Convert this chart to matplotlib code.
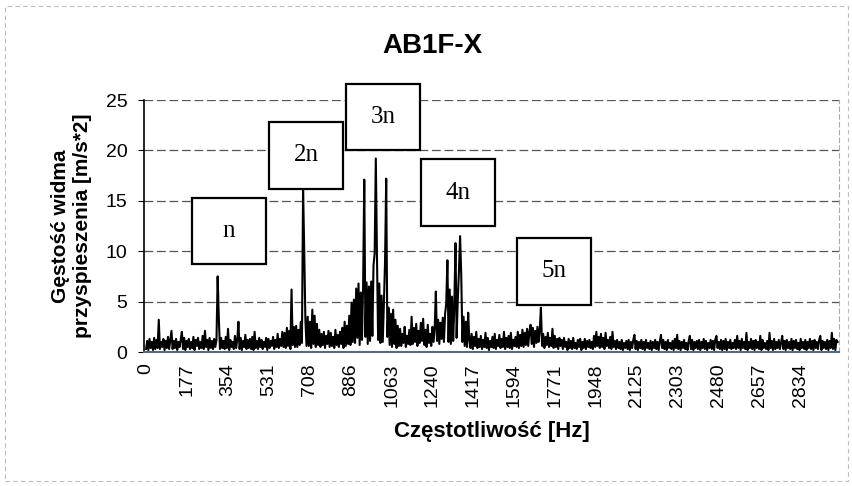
import numpy as np
import matplotlib
matplotlib.use("Agg")
from matplotlib import pyplot as plt
from matplotlib.patches import Rectangle

# Spectrum values, one value per 5 Hz step (0 .. 2995 Hz).
density = [
    0.3, 1.1, 0.2, 1.3, 0.4, 1.0, 0.2, 1.4, 0.3, 1.2,
    0.4, 3.2, 0.3, 1.0, 0.5, 1.3, 0.2, 1.1, 0.4, 1.5,
    0.3, 1.2, 2.1, 0.3, 1.1, 0.4, 1.3, 0.2, 1.0, 0.5,
    1.2, 2.0, 0.3, 1.4, 0.2, 1.1, 0.5, 1.3, 0.3, 1.0,
    0.4, 1.5, 0.2, 1.2, 0.6, 1.4, 0.3, 1.0, 0.4, 1.6,
    0.3, 2.1, 0.5, 1.2, 0.2, 1.4, 0.4, 1.1, 0.3, 1.3,
    0.5, 1.2, 7.5, 3.4, 0.3, 1.4, 0.4, 1.1, 0.3, 1.5,
    0.4, 2.3, 0.2, 1.2, 0.5, 1.0, 0.3, 1.6, 0.4, 1.2,
    3.0, 0.3, 1.4, 0.2, 1.1, 0.5, 1.7, 0.3, 1.2, 0.4,
    1.3, 0.3, 1.5, 0.2, 2.0, 0.4, 1.1, 0.3, 1.4, 0.5,
    1.2, 0.3, 1.0, 0.5, 1.4, 0.2, 1.3, 0.4, 1.1, 0.6,
    1.5, 0.3, 1.2, 0.5, 1.8, 0.4, 1.3, 0.6, 2.0, 0.5,
    1.9, 0.4, 2.4, 0.6, 2.1, 0.3, 6.2, 0.7, 2.5, 0.5,
    2.6, 0.5, 2.2, 0.7, 3.0, 0.9, 16.2, 10.0, 3.2, 0.6,
    3.5, 0.6, 3.0, 0.4, 4.2, 0.8, 3.6, 0.5, 2.8, 0.7,
    2.2, 0.5, 1.8, 0.7, 2.0, 0.4, 1.6, 0.8, 2.1, 0.5,
    1.9, 0.6, 1.5, 0.4, 2.2, 0.7, 1.7, 0.5, 2.0, 0.8,
    2.4, 0.4, 3.0, 0.6, 2.6, 0.8, 3.6, 0.7, 4.9, 1.0,
    5.2, 0.9, 6.3, 1.4, 6.8, 0.7, 5.9, 1.2, 6.6, 17.1,
    1.5, 6.9, 0.8, 6.5, 1.1, 7.0, 1.6, 8.6, 9.8, 19.2,
    9.5, 1.2, 6.8, 0.9, 5.6, 1.0, 4.8, 9.0, 17.2, 1.5,
    4.4, 0.7, 3.8, 0.5, 4.2, 0.8, 3.2, 0.4, 2.6, 0.6,
    2.3, 0.6, 1.8, 0.9, 2.5, 0.5, 1.6, 0.8, 2.2, 0.7,
    3.5, 0.8, 2.4, 1.0, 2.8, 0.6, 2.1, 0.9, 2.9, 1.1,
    3.3, 0.7, 2.2, 0.5, 2.7, 0.9, 1.8, 0.6, 2.5, 1.0,
    2.4, 6.0, 1.1, 3.2, 0.8, 2.9, 1.3, 3.4, 1.0, 3.8,
    4.8, 9.1, 1.0, 6.2, 0.8, 5.5, 1.1, 4.6, 10.8, 1.4,
    5.2, 8.0, 11.5, 7.6, 1.0, 3.5, 0.6, 3.0, 0.5, 3.9,
    1.2, 0.4, 1.8, 0.3, 1.5, 0.6, 2.0, 0.4, 1.3, 0.5,
    1.6, 0.3, 1.2, 0.5, 1.9, 0.4, 1.4, 0.2, 1.1, 0.5,
    1.5, 0.4, 1.8, 0.3, 1.2, 0.6, 1.7, 0.4, 1.3, 0.5,
    2.0, 0.3, 1.4, 0.5, 1.6, 0.4, 1.9, 0.3, 1.2, 0.6,
    1.5, 0.5, 2.0, 0.4, 1.7, 0.6, 2.2, 0.5, 1.9, 0.7,
    2.3, 0.6, 2.0, 2.7, 0.8, 2.4, 0.5, 2.1, 0.9, 2.5,
    1.0, 2.2, 4.4, 0.6, 1.8, 0.4, 1.5, 0.7, 1.9, 0.5,
    1.4, 0.6, 2.3, 0.4, 1.6, 0.5, 1.3, 0.3, 1.4, 0.6,
    1.2, 0.3, 1.4, 0.5, 1.0, 0.2, 1.3, 0.4, 1.1, 0.3,
    1.4, 0.4, 0.9, 0.3, 1.2, 0.5, 1.3, 0.2, 1.0, 0.4,
    1.3, 0.3, 1.1, 0.5, 1.2, 0.4, 1.0, 0.3, 1.6, 0.5,
    2.0, 0.6, 1.5, 0.4, 1.8, 0.5, 1.4, 0.3, 1.9, 0.6,
    1.2, 0.4, 1.5, 0.3, 2.0, 0.5, 1.1, 0.3, 1.2, 0.4,
    1.0, 0.3, 1.2, 0.2, 0.9, 0.4, 1.1, 0.3, 1.2, 0.2,
    1.0, 0.4, 1.2, 1.7, 0.3, 1.1, 0.2, 1.0, 0.4, 1.2,
    0.3, 1.0, 0.2, 1.2, 0.4, 0.9, 0.3, 1.1, 0.2, 1.0,
    0.4, 1.2, 0.3, 1.0, 0.2, 1.1, 1.7, 0.4, 1.2, 0.3,
    1.0, 0.2, 1.2, 0.4, 0.9, 0.3, 1.1, 0.2, 1.3, 0.4,
    1.7, 0.3, 1.1, 0.2, 1.0, 0.4, 1.2, 0.3, 0.9, 0.2,
    1.1, 1.6, 0.3, 1.2, 0.2, 1.0, 0.4, 1.1, 0.3, 1.2,
    0.2, 1.0, 0.4, 1.3, 0.3, 1.1, 0.2, 0.9, 0.4, 1.2,
    0.3, 1.1, 0.2, 1.2, 1.6, 0.4, 1.0, 0.3, 1.2, 0.2,
    1.1, 0.3, 1.3, 0.2, 1.0, 0.4, 1.2, 0.3, 0.9, 0.4,
    1.2, 0.3, 1.6, 0.4, 1.1, 0.2, 1.3, 0.4, 1.0, 0.3,
    1.9, 0.2, 1.0, 0.4, 1.3, 0.3, 1.1, 0.2, 1.2, 0.4,
    1.0, 0.3, 1.6, 0.2, 1.2, 0.4, 0.9, 0.3, 1.1, 0.2,
    1.9, 0.4, 1.1, 0.2, 1.3, 0.3, 1.0, 0.4, 1.2, 0.3,
    0.9, 1.6, 0.3, 1.1, 0.2, 1.2, 0.4, 1.0, 0.3, 1.3,
    0.2, 1.1, 0.4, 1.2, 0.3, 0.9, 0.2, 1.3, 0.4, 1.0,
    0.3, 1.2, 0.2, 1.0, 0.4, 1.3, 0.3, 1.1, 0.2, 1.2,
    0.4, 1.0, 0.3, 1.2, 1.6, 0.2, 1.1, 0.4, 1.0, 0.3,
    1.2, 0.2, 1.1, 0.4, 1.9, 0.3, 1.3, 0.2, 1.2, 1.0,
]
freq_step = 5
freqs = np.arange(len(density)) * freq_step

x_ticks = [0, 177, 354, 531, 708, 886, 1063, 1240, 1417, 1594,
           1771, 1948, 2125, 2303, 2480, 2657, 2834]
y_ticks = [0, 5, 10, 15, 20, 25]

# Harmonic call-out boxes
harm_labels = ["n", "2n", "3n", "4n", "5n"]
harm_x = [359, 693, 1026, 1351, 1767]
harm_y = [12.0, 19.5, 23.3, 15.8, 8.0]

plt.rcParams['font.family'] = ['Liberation Sans', 'DejaVu Sans']

fig = plt.figure(figsize=(8.53, 4.86), dpi=100)
ax = fig.add_axes([0.1688, 0.2757, 0.8148, 0.5185])

ax.plot(freqs, density, color='black', lw=1.5, zorder=3)

ax.set_xlim(-9, 3001)
ax.set_ylim(0, 25)
ax.set_xticks(x_ticks)
ax.set_xticklabels([str(t) for t in x_ticks], rotation=90, fontsize=14)
ax.set_yticks(y_ticks)
ax.set_yticklabels([str(t) for t in y_ticks], fontsize=14)
ax.tick_params(axis='y', length=4, pad=8)
ax.tick_params(axis='x', length=0, pad=8)

for v in y_ticks[1:]:
    ax.axhline(v, color='#555555', lw=0.9, ls=(0, (7, 3)), zorder=1)

ax.spines['top'].set_visible(False)
ax.spines['right'].set_color('#aaaaaa')
ax.spines['right'].set_linestyle((0, (4, 3)))
ax.spines['right'].set_linewidth(0.8)
ax.spines['left'].set_linewidth(1.2)
ax.spines['bottom'].set_linewidth(1.5)
ax.spines['bottom'].set_color('#5a6a78')

box_w, box_h = 320, 6.6
for lab, bx, by in zip(harm_labels, harm_x, harm_y):
    ax.add_patch(Rectangle((bx - box_w / 2, by - box_h / 2), box_w, box_h,
                           facecolor='white', edgecolor='black', lw=1.6,
                           clip_on=False, zorder=5))
    ax.text(bx, by, lab, ha='center', va='center', fontsize=18,
            family=['Liberation Serif', 'DejaVu Serif'], zorder=6, clip_on=False)

fig.text(0.507, 0.906, "AB1F-X", ha='center', va='center',
         fontsize=20, fontweight='bold')
ax.set_xlabel("Częstotliwość [Hz]", fontsize=16, fontweight='bold', labelpad=10)
ax.set_ylabel("Gęstość widma\nprzyspieszenia [m/s*2]", fontsize=15,
              fontweight='bold', labelpad=10, linespacing=1.15)

# faint dashed chart-area border
fig.patches.append(Rectangle((0.006, 0.01), 0.988, 0.978, transform=fig.transFigure,
                             fill=False, edgecolor='#bbbbbb', lw=0.8,
                             ls=(0, (4, 3))))

fig.savefig("out.png", dpi=100)
